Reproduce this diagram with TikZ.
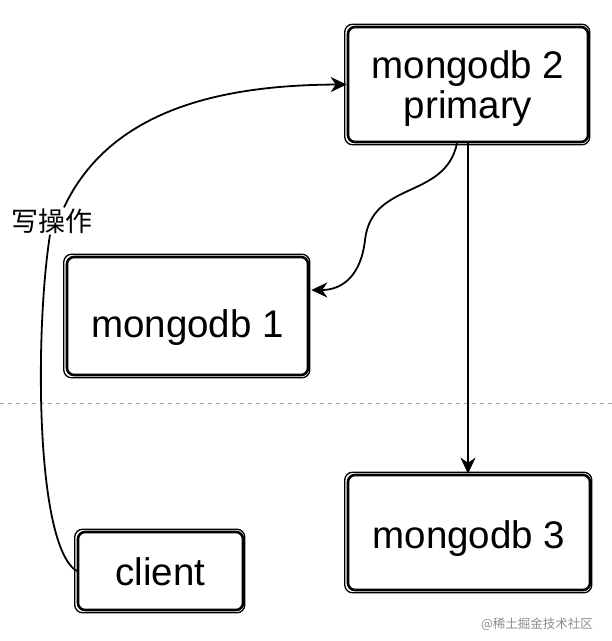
\documentclass[tikz,border=0pt]{standalone}
\usepackage{fontspec}
\setmainfont{Liberation Sans}
\newfontfamily\cjk{Noto Sans CJK SC}
\usetikzlibrary{arrows.meta,backgrounds}
\begin{document}
\begin{tikzpicture}[x=1pt,y=-1pt,
  box/.style={draw=black, line width=2.6pt, rounded corners=7pt, inner sep=0pt,
    align=center, font=\fontsize{38.5}{40}\selectfont},
  shadowline/.style={draw=black!30, line width=3.4pt, rounded corners=7pt},
  sketchline/.style={draw=black, line width=1.3pt, rounded corners=8pt},
  conn/.style={draw=black, line width=1.8pt, -{Stealth[length=16pt,width=15pt,inset=5pt]}},
  plainconn/.style={draw=black, line width=1.8pt},
  sep/.style={draw=black!35, line width=0.8pt, dash pattern=on 4pt off 4pt},
  lbl/.style={font={\cjk\fontsize{27}{30}\selectfont}, inner sep=1pt},
  wm/.style={font={\cjk\fontsize{12.5}{14}\selectfont}, text=black!45, inner sep=0pt}]
\useasboundingbox (0,0) rectangle (612,641);
\fill[white] (0,0) rectangle (612,641);

% separator
\coordinate (dl) at (0,403);
\coordinate (dr) at (612,403);
\draw[sep] (dl) -- (dr);

% boxes
\node[box, minimum width=240pt, minimum height=115pt] (m2) at (468,84.5) {\rule{0pt}{35pt}mongodb 2\\primary};
\node[box, minimum width=241pt, minimum height=118pt, text height=42pt, text depth=0pt] (m1) at (187.5,316) {mongodb 1};
\node[box, minimum width=242pt, minimum height=115pt, text height=31pt, text depth=0pt] (m3) at (469,532.5) {mongodb 3};
\node[box, minimum width=165pt, minimum height=78pt, text height=28pt, text depth=0pt] (cl) at (160.5,571) {client};

\begin{scope}[on background layer]
\foreach \n in {m1,m2,m3,cl}{
  \draw[shadowline] ([shift={(5,8)}]\n.north west) rectangle ([shift={(5,7)}]\n.south east);
}
\end{scope}
\foreach \n in {m1,m2,m3,cl}{
  \draw[sketchline] ([shift={(-2,-1.5)}]\n.north west) rectangle ([shift={(0.5,1.5)}]\n.south east);
}

% label
\node[lbl] (w) at (52,221) {写操作};

% client -> mongodb 2
\draw[plainconn] (cl.west) .. controls (35,545) and (35,330) .. ([xshift=-2pt]w.south);
\draw[conn] ([xshift=12pt]w.north) .. controls (110,110) and (220,85) .. (m2.west);

% mongodb 2 -> mongodb 1
\coordinate (s1) at (365,240);
\draw[conn] ([xshift=-11pt]m2.south) .. controls (445,200) and (372,180) .. (s1)
  .. controls (361,276) and (342,290) .. ([shift={(2,-26)}]m1.east);

% mongodb 2 -> mongodb 3
\draw[conn] (m2.south) -- (m2.south |- m3.north);

% watermark
\node[wm] (wmk) at (537,624) {@稀土掘金技术社区};
\end{tikzpicture}
\end{document}
